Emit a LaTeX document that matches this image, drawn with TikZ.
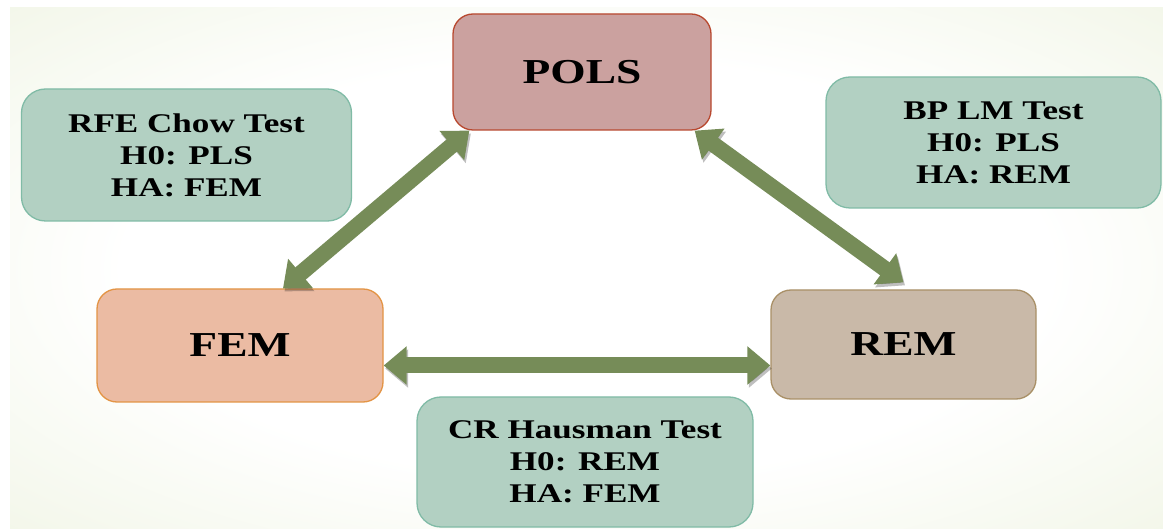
\documentclass[tikz,border=0pt]{standalone}
\usepackage{fontspec}
\setmainfont{Liberation Serif}[FakeStretch=1.3]
\usetikzlibrary{arrows.meta}

\definecolor{polsfill}{HTML}{CBA19F}
\definecolor{polsline}{HTML}{B8482F}
\definecolor{femfill}{HTML}{EBBBA3}
\definecolor{femline}{HTML}{E39445}
\definecolor{remfill}{HTML}{C9B9A8}
\definecolor{remline}{HTML}{A99067}
\definecolor{testfill}{HTML}{B2D0C2}
\definecolor{testline}{HTML}{80BBA6}
\definecolor{linkgreen}{HTML}{768C58}
\definecolor{bgedge}{HTML}{E8EFD6}

% soft glow behind the diagram
\pgfdeclareradialshading{bgglow}{\pgfpoint{0bp}{0bp}}{color(0bp)=(white); color(20bp)=(white); color(50bp)=(bgedge); color(72bp)=(bgedge)}

\begin{document}
\begin{tikzpicture}[x=1pt,y=-1pt,
    model/.style={draw, line width=1.3pt, rounded corners=20pt, inner sep=0pt,
        font=\bfseries\fontsize{35}{42}\selectfont},
    testbox/.style={draw=testline, fill=testfill, line width=1.3pt, rounded corners=24pt,
        inner sep=0pt, align=center, minimum width=333pt, minimum height=131pt,
        font=\bfseries\fontsize{27}{32}\selectfont},
    tip/.tip={Triangle[width=37pt,length=23pt]},
    link/.style={tip-tip, draw=linkgreen, line width=16pt,
        preaction={draw=black, opacity=.25, transform canvas={shift={(1.5pt,-3pt)}}}}]

    % background
    \useasboundingbox (0,0) rectangle (1163,529);
    \fill[white] (0,0) rectangle (1163,529);
    \shade[shading=bgglow] (10,8) rectangle (1163,529);

    % the three models
    \node[model, draw=polsline, fill=polsfill, minimum width=258pt, minimum height=116pt] (pols) at (582,72) {POLS};
    \node[model, draw=femline, fill=femfill, minimum width=286pt, minimum height=113pt] (fem) at (240,345.5) {FEM};
    \node[model, draw=remline, fill=remfill, minimum width=265pt, minimum height=109pt] (rem) at (903.5,344.5) {REM};

    % the tests between them
    \node[testbox, minimum width=330pt, minimum height=132pt] (chow) at (186.5,155) {RFE Chow Test\\H0: PLS\\HA: FEM};
    \node[testbox, minimum width=335pt] (bplm) at (993.5,142.5) {BP LM Test\\H0: PLS\\HA: REM};
    \node[testbox, minimum width=336pt, minimum height=130pt] (hausman) at (585,462) {CR Hausman Test\\H0: REM\\HA: FEM};

    % arrows
    \coordinate (hl) at ([yshift=-20pt]fem.east);
    \draw[link] ([xshift=17pt]pols.south west) -- ([xshift=43pt]fem.north);
    \draw[link] ([xshift=-17pt]pols.south east) -- ([yshift=7pt]rem.north);
    \draw[link] (hl) -- (hl -| rem.west);
\end{tikzpicture}
\end{document}
